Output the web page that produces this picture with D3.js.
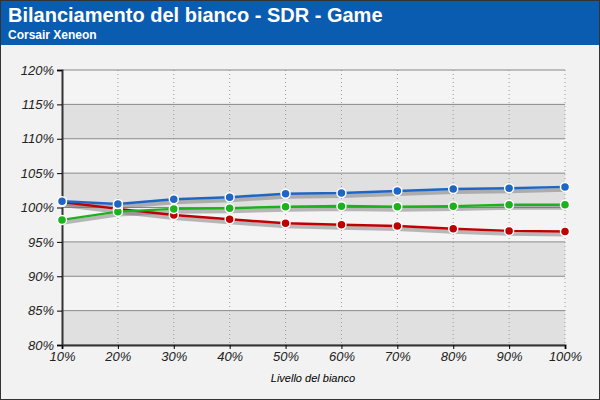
<!DOCTYPE html>
<html><head><meta charset="utf-8">
<script src="https://cdn.jsdelivr.net/npm/d3@7"></script>
<style>body{margin:0}svg{display:block;font-family:Arial,"Liberation Sans",sans-serif}</style>
</head><body><svg id="c" width="600" height="400"></svg>
<script>
const levels = [10, 20, 30, 40, 50, 60, 70, 80, 90, 100];
const red = [100.8, 99.8, 98.9, 98.3, 97.7, 97.5, 97.3, 96.9, 96.6, 96.5];
const green = [98.2, 99.4, 99.8, 99.9, 100.1, 100.2, 100.1, 100.2, 100.4, 100.4];
const blue = [100.9, 100.5, 101.2, 101.5, 102.0, 102.1, 102.4, 102.7, 102.8, 103.0];
const yTicks = [80, 85, 90, 95, 100, 105, 110, 115, 120];

const svg = d3.select('#c');
svg.append('rect').attr('width', 600).attr('height', 400).attr('fill', '#f2f2f2');
svg.append('rect').attr('width', 600).attr('height', 45).attr('fill', '#0a5cb0');
svg.append('text').attr('x', 8).attr('y', 22).attr('fill', '#fff').attr('font-size', 20).attr('font-weight', 'bold').text('Bilanciamento del bianco - SDR - Game');
svg.append('text').attr('x', 8).attr('y', 39).attr('fill', '#fff').attr('font-size', 12).attr('font-weight', 'bold').text('Corsair Xeneon');
svg.append('rect').attr('x', 0.5).attr('y', 0.5).attr('width', 599).attr('height', 399).attr('fill', 'none').attr('stroke', '#333');

const x = d3.scaleLinear().domain([10, 100]).range([62, 565]);
const y = d3.scaleLinear().domain([80, 120]).range([345, 70]);

for (let i = 0; i < yTicks.length - 1; i++) {
  svg.append('rect').attr('x', 62).attr('width', 503)
    .attr('y', y(yTicks[i + 1])).attr('height', y(yTicks[i]) - y(yTicks[i + 1]))
    .attr('fill', i % 2 === 0 ? '#e0e0e0' : '#f4f4f4');
}
svg.selectAll('.vg').data(levels.slice(1)).join('line')
  .attr('x1', d => x(d)).attr('x2', d => x(d)).attr('y1', 70).attr('y2', 345)
  .attr('stroke', '#999').attr('stroke-dasharray', '1,3');
svg.selectAll('.hg').data(yTicks).join('line')
  .attr('x1', 62).attr('x2', 565).attr('y1', d => y(d)).attr('y2', d => y(d))
  .attr('stroke', '#888');

svg.append('g').attr('transform', 'translate(62,0)')
  .call(d3.axisLeft(y).tickValues(yTicks).tickFormat(d => d + '%').tickSize(5))
  .call(g => g.select('.domain').attr('stroke', '#333').attr('stroke-width', 2))
  .call(g => g.selectAll('text').attr('font-size', 13).attr('font-style', 'italic').attr('fill', '#222'));
svg.append('g').attr('transform', 'translate(0,345)')
  .call(d3.axisBottom(x).tickValues(levels).tickFormat(d => d + '%').tickSize(4))
  .call(g => g.select('.domain').attr('stroke', '#333').attr('stroke-width', 2))
  .call(g => g.selectAll('text').attr('font-size', 13).attr('font-style', 'italic').attr('fill', '#222'));
svg.append('text').attr('x', 313).attr('y', 382).attr('text-anchor', 'middle')
  .attr('font-size', 11).attr('font-style', 'italic').text('Livello del bianco');

const line = d3.line().x((d, i) => x(levels[i])).y(d => y(d));
const series = [[red, '#c00000'], [green, '#1db11d'], [blue, '#1f66c4']];
series.forEach(([vals]) => {
  svg.append('path').attr('d', line(vals)).attr('transform', 'translate(0,3)')
    .attr('fill', 'none').attr('stroke', '#777').attr('stroke-opacity', 0.5).attr('stroke-width', 4);
});
series.forEach(([vals, col]) => {
  svg.append('path').attr('d', line(vals)).attr('fill', 'none').attr('stroke', col).attr('stroke-width', 2.5);
  svg.append('g').selectAll('circle').data(vals).join('circle')
    .attr('cx', (d, i) => x(levels[i])).attr('cy', d => y(d)).attr('r', 4.5)
    .attr('fill', col).attr('stroke', '#fff').attr('stroke-width', 1.5);
});
</script></body></html>
